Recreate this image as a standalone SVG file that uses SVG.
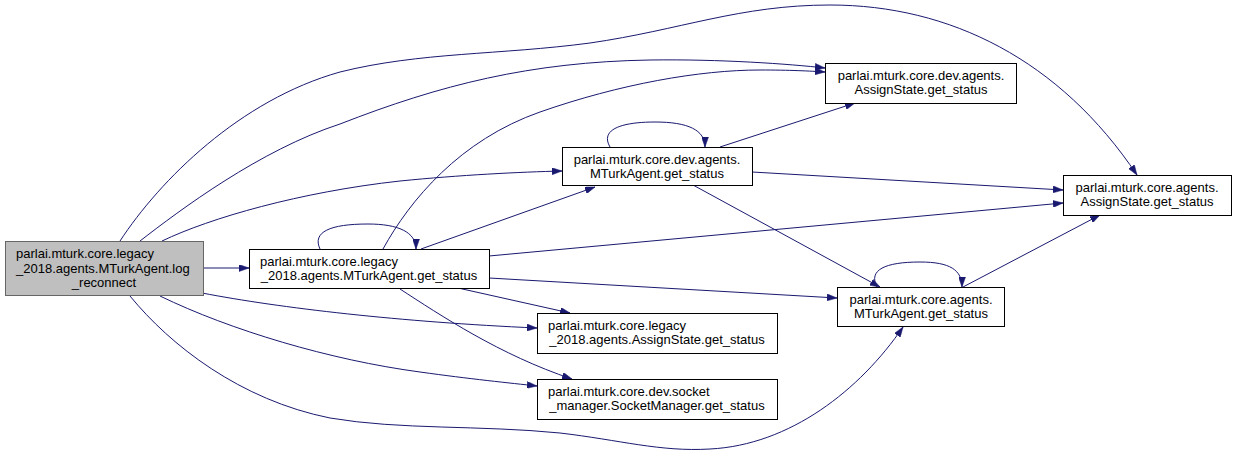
<svg xmlns="http://www.w3.org/2000/svg" width="1236" height="458" viewBox="0 0 1236 458">
<style>
.n{fill:#ffffff;stroke:#000000;stroke-width:1}
.root{fill:#bfbfbf;stroke:#666666;stroke-width:1}
text{font-family:"Liberation Sans",Arial,Helvetica,sans-serif;font-size:13px;fill:#000000}
.c{text-anchor:middle}
.e{fill:none;stroke:#191970;stroke-width:1;marker-end:url(#ah)}
</style>
<defs>
<marker id="ah" markerUnits="userSpaceOnUse" markerWidth="10" markerHeight="7" viewBox="0 0 10 7" refX="10" refY="3.5" orient="auto">
<path d="M0,0 L10,3.5 L0,7 Z" fill="#191970" stroke="#191970" stroke-width="0.5"/>
</marker>
</defs>
<rect width="1236" height="458" fill="#ffffff"/>
<g id="connectors">
<path class="e" d="M203,268 L249,268"/>
<path class="e" d="M162,241 C210,218 300,192 400,181 C460,175 520,172 562,171"/>
<path class="e" d="M140,241 C180,210 260,150 340,124 C440,85 530,62 650,60 C720,59 790,64 825,68"/>
<path class="e" d="M120,241 C160,180 240,100 340,72 C420,52 500,55 590,43 C680,30 740,5 830,5 C950,5 1060,60 1137,175"/>
<path class="e" d="M202,293 C280,308 400,322 537,328"/>
<path class="e" d="M160,296 C230,330 330,360 420,372 C470,379 510,383 537,386"/>
<path class="e" d="M130,296 C170,345 240,400 330,418 C400,430 480,425 560,433 C620,440 660,452 710,449 C790,445 860,390 903,327"/>
<path class="e" d="M320,249 C312,232 330,224 368,224 C398,224 416,232 416,249"/>
<path class="e" d="M421,249 L595,187"/>
<path class="e" d="M383,249 C410,200 460,140 540,112 C620,84 700,70 760,70 C790,70 810,71 825,72"/>
<path class="e" d="M489,256 L1063,203"/>
<path class="e" d="M489,278 L837,298"/>
<path class="e" d="M458,288 L570,313"/>
<path class="e" d="M400,289 C440,315 500,355 572,379"/>
<path class="e" d="M610,147 C600,130 620,122 655,122 C688,122 705,130 705,147"/>
<path class="e" d="M720,147 L855,103"/>
<path class="e" d="M752,172 L1063,190"/>
<path class="e" d="M693,185 L880,287"/>
<path class="e" d="M877,287 C868,270 885,262 920,262 C950,262 962,270 962,287"/>
<path class="e" d="M963,287 L1100,215"/>
</g>
<g id="node0">
<rect class="root" x="5.5" y="241.5" width="198" height="54"/>
<text x="16" y="258">parlai.mturk.core.legacy</text>
<text x="16" y="273">_2018.agents.MTurkAgent.log</text>
<text class="c" x="104" y="287">_reconnect</text>
</g>
<g id="node1">
<rect class="n" x="249.5" y="249.5" width="240" height="39"/>
<text x="260" y="266">parlai.mturk.core.legacy</text>
<text class="c" x="369" y="280">_2018.agents.MTurkAgent.get_status</text>
</g>
<g id="node2">
<rect class="n" x="562.5" y="147.5" width="190" height="38"/>
<text class="c" x="657" y="164">parlai.mturk.core.dev.agents.</text>
<text class="c" x="657" y="178">MTurkAgent.get_status</text>
</g>
<g id="node3">
<rect class="n" x="825.5" y="63.5" width="191" height="40"/>
<text class="c" x="921" y="80">parlai.mturk.core.dev.agents.</text>
<text class="c" x="921" y="94">AssignState.get_status</text>
</g>
<g id="node4">
<rect class="n" x="1063.5" y="175.5" width="168" height="40"/>
<text class="c" x="1147" y="192">parlai.mturk.core.agents.</text>
<text class="c" x="1147" y="206">AssignState.get_status</text>
</g>
<g id="node5">
<rect class="n" x="837.5" y="287.5" width="167" height="39"/>
<text class="c" x="921" y="304">parlai.mturk.core.agents.</text>
<text class="c" x="921" y="318">MTurkAgent.get_status</text>
</g>
<g id="node6">
<rect class="n" x="537.5" y="313.5" width="240" height="40"/>
<text x="548" y="330">parlai.mturk.core.legacy</text>
<text class="c" x="657" y="344">_2018.agents.AssignState.get_status</text>
</g>
<g id="node7">
<rect class="n" x="537.5" y="379.5" width="240" height="40"/>
<text x="548" y="396">parlai.mturk.core.dev.socket</text>
<text class="c" x="657" y="410">_manager.SocketManager.get_status</text>
</g>
</svg>
